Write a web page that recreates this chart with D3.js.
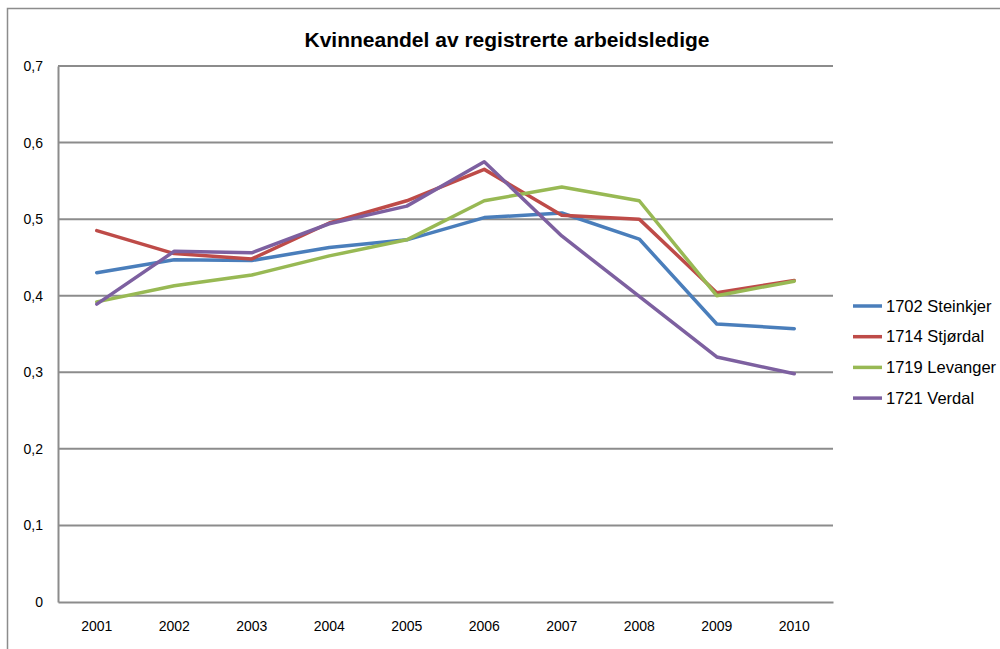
<!DOCTYPE html>
<html>
<head>
<meta charset="utf-8">
<script src="https://cdn.jsdelivr.net/npm/d3@7"></script>
<style>
  body { margin: 0; background: #fff; }
  text { font-family: "Liberation Sans", Arial, sans-serif; fill: #000; }
</style>
</head>
<body>
<svg id="chart" width="1000" height="649"></svg>
<script>
const years = ['2001', '2002', '2003', '2004', '2005', '2006', '2007', '2008', '2009', '2010'];
const seriesNames = ['1702 Steinkjer', '1714 Stjørdal', '1719 Levanger', '1721 Verdal'];
const steinkjer = [0.430, 0.447, 0.446, 0.463, 0.473, 0.502, 0.508, 0.474, 0.363, 0.357];
const stjordal  = [0.485, 0.455, 0.448, 0.495, 0.524, 0.565, 0.505, 0.500, 0.404, 0.420];
const levanger  = [0.392, 0.413, 0.427, 0.452, 0.473, 0.524, 0.542, 0.524, 0.400, 0.419];
const verdal    = [0.389, 0.458, 0.456, 0.494, 0.517, 0.575, 0.478, 0.399, 0.320, 0.298];
const yTicks = [0, 0.1, 0.2, 0.3, 0.4, 0.5, 0.6, 0.7];
const colors = ['#4A7EBB', '#BE4B48', '#98B954', '#7D60A0'];

const series = [steinkjer, stjordal, levanger, verdal]
    .map((values, i) => ({ name: seriesNames[i], values, color: colors[i] }));

const svg = d3.select('#chart');
const margin = { left: 58, top: 66, right: 167, bottom: 47 };
const width = 1000 - margin.left - margin.right;
const height = 649 - margin.top - margin.bottom;

// outer chart frame (runs off the picture at right and bottom)
svg.append('path')
    .attr('d', 'M7.5,660 V8.5 H1010')
    .attr('fill', 'none')
    .attr('stroke', '#8c8c8c')
    .attr('stroke-width', 1.5);

svg.append('text')
    .attr('x', 507)
    .attr('y', 47)
    .attr('text-anchor', 'middle')
    .style('font-size', '21px')
    .style('font-weight', 'bold')
    .text('Kvinneandel av registrerte arbeidsledige');

const chart = svg.append('g')
    .attr('transform', `translate(${margin.left}, ${margin.top})`);

const x = d3.scaleBand().domain(years).range([0, width]);
const y = d3.scaleLinear().domain([0, 0.7]).range([height, 0]);

// gridlines
chart.append('g')
    .selectAll('line')
    .data(yTicks.filter(d => d > 0))
    .join('line')
        .attr('x1', 0)
        .attr('x2', width)
        .attr('y1', d => y(d))
        .attr('y2', d => y(d))
        .attr('stroke', '#8c8c8c')
        .attr('stroke-width', 2);

const yAxis = d3.axisLeft(y)
    .tickValues(yTicks)
    .tickSize(0)
    .tickPadding(15)
    .tickFormat(d => d3.format('.1f')(d).replace('.', ',').replace(/^0,0$/, '0'));

chart.append('g')
    .attr('class', 'y axis')
    .call(yAxis)
    .call(g => g.select('.domain').attr('stroke', '#8c8c8c').attr('stroke-width', 2))
    .selectAll('text')
        .style('font-size', '14px');

const xAxis = d3.axisBottom(x).tickSize(0).tickPadding(19);

chart.append('g')
    .attr('class', 'x axis')
    .attr('transform', `translate(0, ${height})`)
    .call(xAxis)
    .call(g => g.select('.domain').attr('stroke', '#8c8c8c').attr('stroke-width', 2))
    .selectAll('text')
        .style('font-size', '14px');

const line = d3.line()
    .x((d, i) => x(years[i]) + x.bandwidth() / 2)
    .y(d => y(d));

chart.selectAll('.series')
    .data(series)
    .join('path')
        .attr('class', 'series')
        .attr('d', d => line(d.values))
        .attr('fill', 'none')
        .attr('stroke', d => d.color)
        .attr('stroke-width', 3.5)
        .attr('stroke-linejoin', 'round')
        .attr('stroke-linecap', 'round');

const legend = svg.append('g')
    .attr('transform', 'translate(853, 306)');

const item = legend.selectAll('g')
    .data(series)
    .join('g')
        .attr('transform', (d, i) => `translate(0, ${i * 30.7})`);

item.append('line')
    .attr('x1', 0)
    .attr('x2', 29)
    .attr('stroke', d => d.color)
    .attr('stroke-width', 3.5);

item.append('text')
    .attr('x', 33)
    .attr('dy', '0.35em')
    .style('font-size', '16.5px')
    .text(d => d.name);
</script>
</body>
</html>
